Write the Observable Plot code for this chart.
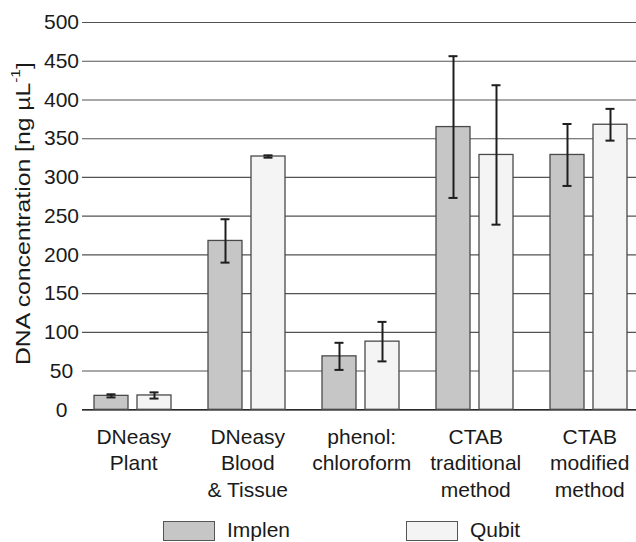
<!DOCTYPE html>
<html>
<head>
<meta charset="utf-8">
<script src="https://cdn.jsdelivr.net/npm/d3@7"></script>
<script src="https://cdn.jsdelivr.net/npm/@observablehq/plot@0.6"></script>
<style>
  html, body { margin: 0; padding: 0; background: #fff; overflow: hidden; width: 636px; height: 542px; }
  #chart svg { display: block; overflow: hidden; }
  .legend { position: relative; width: 636px; height: 37px; font-family: "Liberation Sans", Arial, sans-serif; font-size: 21px; color: #1a1a1a; }
  .legend .sw { position: absolute; top: 16px; width: 50px; height: 18px; border: 1px solid #555; }
  .legend .lb { position: absolute; top: 14px; line-height: 22px; }
</style>
</head>
<body>
<div id="chart"></div>
<div class="legend" id="legend"></div>
<script>
// ---- data ----
const groups = ["DNeasy Plant", "DNeasy Blood & Tissue", "phenol: chloroform", "CTAB traditional method", "CTAB modified method"];
const groupLabels = ["DNeasy\nPlant", "DNeasy\nBlood\n& Tissue", "phenol:\nchloroform", "CTAB\ntraditional\nmethod", "CTAB\nmodified\nmethod"];
const series = ["Implen", "Qubit"];
const implen = [18, 218, 69, 365, 329];
const implenErr = [2, 28, 17.5, 91.5, 40];
const qubit = [18.5, 327, 88, 329, 368];
const qubitErr = [4, 1.5, 25.5, 90, 20.5];
const yTicks = [0, 50, 100, 150, 200, 250, 300, 350, 400, 450, 500];
const colors = ["#c5c6c5", "#f4f4f4"];
const yLabel = "DNA concentration [ng µL";
const yLabelSup = "-1";

const rows = groups.flatMap((g, i) => [
  {group: g, series: series[0], value: implen[i], err: implenErr[i]},
  {group: g, series: series[1], value: qubit[i], err: qubitErr[i]}
]);

const font = "Liberation Sans, Arial, sans-serif";

const chart = Plot.plot({
  width: 636,
  height: 505,
  marginLeft: 81,
  marginRight: -17.5,
  marginTop: 22,
  marginBottom: 95.7,
  style: {fontFamily: font, fontSize: "21px", color: "#1a1a1a", background: "transparent"},
  fx: {domain: groups, padding: 0, axis: null, label: null},
  x: {domain: series, paddingInner: 9 / 44, paddingOuter: 0.403, align: 0.338, axis: null},
  y: {domain: [0, 500], axis: null},
  color: {domain: series, range: colors},
  marks: [
    Plot.ruleY(yTicks, {stroke: "#1a1a1a", strokeWidth: 1.1, strokeOpacity: 0.75}),
    Plot.ruleY([0], {stroke: "#111", strokeWidth: 1.2}),
    Plot.barY(rows, {fx: "group", x: "series", y: "value", fill: "series", stroke: "#4a4a4a", strokeWidth: 1.3}),
    Plot.ruleX(rows, {fx: "group", x: "series", y1: d => d.value - d.err, y2: d => d.value + d.err, stroke: "#1e1e1e", strokeWidth: 2}),
    Plot.tickY(rows, {fx: "group", x: "series", y: d => d.value - d.err, insetLeft: 12.5, insetRight: 12.5, stroke: "#1e1e1e", strokeWidth: 2}),
    Plot.tickY(rows, {fx: "group", x: "series", y: d => d.value + d.err, insetLeft: 12.5, insetRight: 12.5, stroke: "#1e1e1e", strokeWidth: 2}),
    Plot.axisY(yTicks, {tickSize: 0, tickPadding: 21, textAnchor: "middle", label: null, fontSize: 21}),
    Plot.axisFx({anchor: "bottom", tickSize: 0, tickPadding: 15, dx: -5.75, lineHeight: 1.26, fontSize: 21, label: null,
      tickFormat: g => groupLabels[groups.indexOf(g)]})
  ]
});

document.getElementById("chart").appendChild(chart);

// y-axis title (rotated, with superscript)
const y = chart.scale("y");
const cy = (y.apply(0) + y.apply(500)) / 2 - 2;
const svg = d3.select(chart);
const t = svg.append("text")
  .attr("transform", `translate(23,${cy}) rotate(-90)`)
  .attr("text-anchor", "middle")
  .attr("dominant-baseline", "central")
  .attr("font-family", font)
  .attr("font-size", 21)
  .attr("fill", "#1a1a1a");
t.append("tspan").text(yLabel);
t.append("tspan").attr("font-size", 13).attr("dy", "-0.55em").text(yLabelSup);
t.append("tspan").attr("dy", "0.35em").text("]");
// stretch to the reference length
const len = t.node().getComputedTextLength();
t.attr("transform", `translate(23,${cy}) rotate(-90) scale(${303 / len},1)`);

// legend
const legend = d3.select("#legend");
const lx = [163, 406];
series.forEach((s, i) => {
  legend.append("div").attr("class", "sw").style("left", lx[i] + "px").style("background", colors[i]);
  legend.append("div").attr("class", "lb").style("left", (lx[i] + 64) + "px").text(s);
});
</script>
</body>
</html>
